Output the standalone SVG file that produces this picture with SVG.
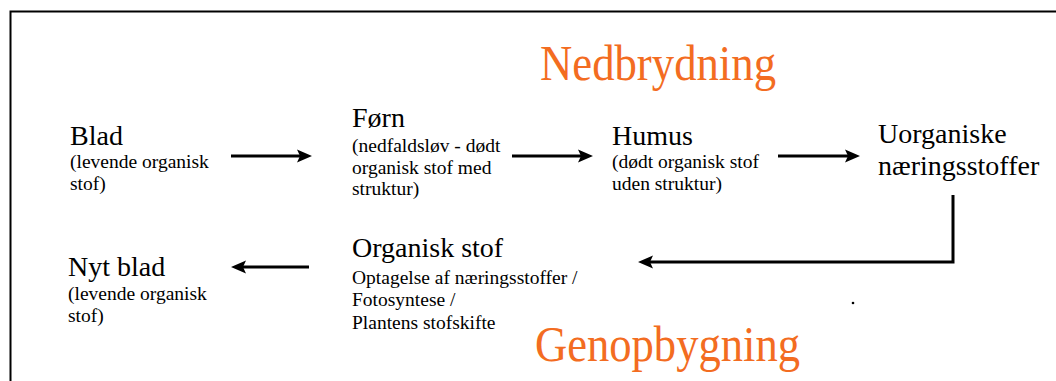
<svg xmlns="http://www.w3.org/2000/svg" width="1056" height="381" viewBox="0 0 1056 381">
  <style>
    .t { font-family: 'Liberation Serif', 'Times New Roman', 'DejaVu Serif', serif; fill: #000; }
    .head { font-size: 28px; }
    .sub { font-size: 19.5px; }
    .title { font-size: 50px; fill: #f36c21; }
    .conn { fill: none; stroke: #000; stroke-width: 3; marker-end: url(#arrow); }
  </style>
  <defs>
    <marker id="arrow" markerUnits="userSpaceOnUse" viewBox="0 -7 16 14" markerWidth="16" markerHeight="14" refX="3" refY="0" orient="auto">
      <path d="M0,-6.5 L15,0 L0,6.5 L3,0 z" fill="#000"/>
    </marker>
  </defs>
  <rect width="1056" height="381" fill="#fff"/>
  <path d="M10.5,381 V11.5 H1056" fill="none" stroke="#000" stroke-width="2"/>

  <g class="t" font-family="Liberation Serif, serif">
    <text class="title" x="540" y="80" textLength="236" lengthAdjust="spacingAndGlyphs">Nedbrydning</text>
    <text class="title" x="535" y="361" textLength="265" lengthAdjust="spacingAndGlyphs">Genopbygning</text>
  </g>

  <g id="blad" class="t" font-family="Liberation Serif, serif">
    <text class="head" x="70" y="145">Blad</text>
    <text class="sub" x="70" y="168">(levende organisk</text>
    <text class="sub" x="70" y="190">stof)</text>
  </g>
  <g id="forn" class="t" font-family="Liberation Serif, serif">
    <text class="head" x="352" y="127">Førn</text>
    <text class="sub" x="352" y="152">(nedfaldsløv - dødt</text>
    <text class="sub" x="352" y="174">organisk stof med</text>
    <text class="sub" x="352" y="195">struktur)</text>
  </g>
  <g id="humus" class="t" font-family="Liberation Serif, serif">
    <text class="head" x="612" y="145">Humus</text>
    <text class="sub" x="612" y="168">(dødt organisk stof</text>
    <text class="sub" x="612" y="190">uden struktur)</text>
  </g>
  <g id="uorganiske" class="t" font-family="Liberation Serif, serif">
    <text class="head" x="878" y="143">Uorganiske</text>
    <text class="head" x="878" y="175">næringsstoffer</text>
  </g>
  <g id="organisk" class="t" font-family="Liberation Serif, serif">
    <text class="head" x="352" y="257">Organisk stof</text>
    <text class="sub" x="352" y="284">Optagelse af næringsstoffer /</text>
    <text class="sub" x="352" y="306">Fotosyntese /</text>
    <text class="sub" x="352" y="329">Plantens stofskifte</text>
  </g>
  <g id="nytblad" class="t" font-family="Liberation Serif, serif">
    <text class="head" x="68" y="276">Nyt blad</text>
    <text class="sub" x="68" y="300">(levende organisk</text>
    <text class="sub" x="68" y="322">stof)</text>
  </g>

  <g id="connectors">
    <path class="conn" d="M231,156 H300"/>
    <path class="conn" d="M512,156 H581"/>
    <path class="conn" d="M778,156 H848"/>
    <path class="conn" d="M953,195 V262 H650"/>
    <path class="conn" d="M309,267 H243"/>
  </g>
  <circle cx="853" cy="303" r="1.3" fill="#000"/>
</svg>
